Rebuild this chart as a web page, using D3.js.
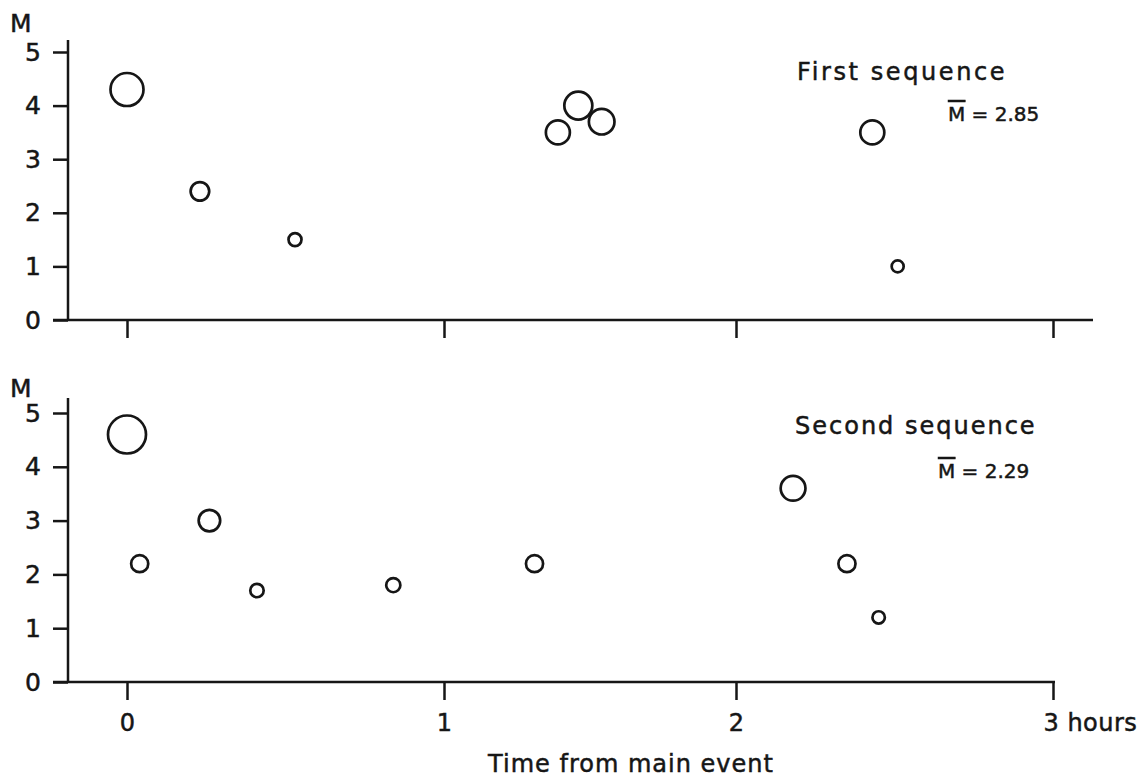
<!DOCTYPE html>
<html>
<head>
<meta charset="utf-8">
<script src="https://cdn.jsdelivr.net/npm/d3@7"></script>
<style>
    body { margin: 0; background: #fff; }
    svg text { font-family: "DejaVu Sans", sans-serif; fill: #161616; stroke: #161616; stroke-width: 0.5px; }
    .axis line, .axis-line { stroke: #161616; stroke-width: 2.5; }
    .quake { fill: none; stroke: #161616; stroke-width: 2.7; }
</style>
</head>
<body>
<div id="chart"></div>
<script>
const hourTicks = [0, 1, 2, 3];
const magTicks = [0, 1, 2, 3, 4, 5];

const firstTimes = [0, 0.23, 0.53, 1.39, 1.46, 1.54, 2.43, 2.51];
const firstMags = [4.3, 2.4, 1.5, 3.5, 4.0, 3.7, 3.5, 1.0];

const secondTimes = [0, 0.04, 0.26, 0.41, 0.84, 1.31, 2.18, 2.35, 2.45];
const secondMags = [4.6, 2.2, 3.0, 1.7, 1.8, 2.2, 3.6, 2.2, 1.2];

const sequenceNames = ["First sequence", "Second sequence"];
const meanMags = ["2.85", "2.29"];
const xTitle = "Time from main event";

const width = 1144, height = 778;

const svg = d3.select("#chart").append("svg")
    .attr("width", width)
    .attr("height", height);

// hand drawn ticks are not evenly spaced, so follow them
const x = d3.scaleLinear()
    .domain(hourTicks)
    .range([127, 444, 736, 1053]);

// circle size grows with magnitude (template sizes of the drawing)
const r = d3.scaleLinear()
    .domain([1, 1.7, 2.4, 3.5, 4.0, 4.6])
    .range([6, 6.7, 9.3, 12, 14, 19])
    .clamp(true);

function panel(opts) {
    const y = d3.scaleLinear().domain([0, 5]).range([opts.y0, opts.y5]);
    const g = svg.append("g");

    // y axis
    const ay = g.append("g")
        .attr("class", "axis")
        .attr("transform", "translate(68,0)")
        .call(d3.axisLeft(y).tickValues(magTicks).tickSize(15).tickPadding(12)
            .tickFormat(d3.format("d")));
    ay.select(".domain").remove();
    ay.selectAll(".tick text").style("font-size", "25px");
    g.append("line").attr("class", "axis-line")
        .attr("x1", 68).attr("x2", 68)
        .attr("y1", opts.y0 + 1).attr("y2", opts.yTop);

    // x axis
    const ax = g.append("g")
        .attr("class", "axis")
        .attr("transform", "translate(0," + opts.y0 + ")")
        .call(d3.axisBottom(x).tickValues(hourTicks).tickSize(18).tickPadding(14)
            .tickFormat(d => opts.labels ? (d === 3 ? "3 hours" : d) : ""));
    ax.select(".domain").remove();
    ax.selectAll(".tick text").style("font-size", "24px");
    ax.selectAll(".tick text")
        .filter(d => d === 3)
        .attr("text-anchor", "start")
        .attr("x", -10)
        .style("letter-spacing", "0.5px");
    g.append("line").attr("class", "axis-line")
        .attr("x1", 53).attr("x2", opts.xEnd)
        .attr("y1", opts.y0).attr("y2", opts.y0);

    g.append("text")
        .attr("x", 10).attr("y", opts.mY)
        .style("font-size", "25px")
        .text("M");

    g.selectAll("circle.quake")
        .data(d3.zip(opts.times, opts.mags))
        .enter().append("circle")
        .attr("class", "quake")
        .attr("cx", d => x(d[0]))
        .attr("cy", d => y(d[1]))
        .attr("r", d => r(d[1]));

    g.append("text")
        .attr("x", opts.nameX).attr("y", opts.nameY)
        .style("font-size", "24px")
        .style("letter-spacing", opts.spacing)
        .text(opts.name);

    const mean = g.append("text")
        .attr("x", opts.meanX).attr("y", opts.meanY)
        .style("font-size", "20px");
    mean.append("tspan").style("text-decoration", "overline").text("M");
    mean.append("tspan").text(" = " + opts.mean);
}

panel({
    y0: 320, y5: 52, yTop: 40, xEnd: 1093, mY: 32,
    times: firstTimes, mags: firstMags, labels: false,
    name: sequenceNames[0], nameX: 797, nameY: 80, spacing: "2.6px",
    mean: meanMags[0], meanX: 948, meanY: 121
});

panel({
    y0: 682, y5: 413, yTop: 398, xEnd: 1055, mY: 397,
    times: secondTimes, mags: secondMags, labels: true,
    name: sequenceNames[1], nameX: 795, nameY: 434, spacing: "2px",
    mean: meanMags[1], meanX: 938, meanY: 478
});

svg.append("text")
    .attr("x", 631).attr("y", 772)
    .attr("text-anchor", "middle")
    .style("font-size", "24px")
    .style("letter-spacing", "1px")
    .text(xTitle);
</script>
</body>
</html>
